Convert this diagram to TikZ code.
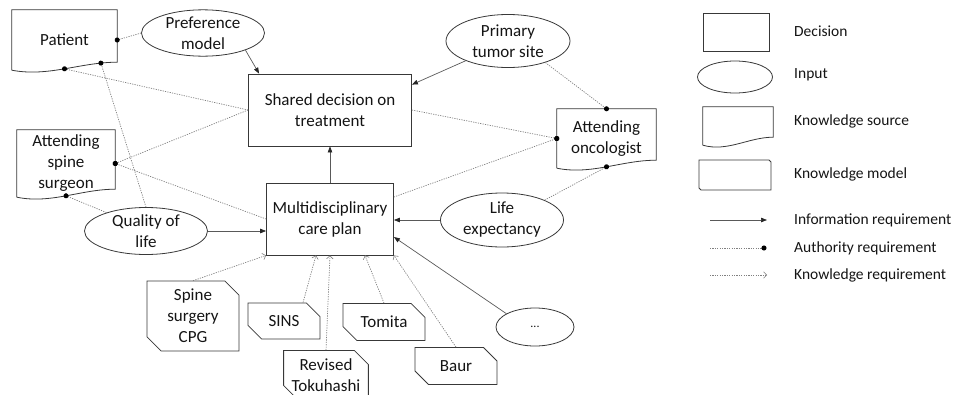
\documentclass[tikz,border=0pt]{standalone}
\usepackage{fontspec}
\setmainfont{Carlito}
\usetikzlibrary{shapes.geometric,shapes.misc,arrows.meta,calc}

% outline of a knowledge source (document with wavy bottom)
\newcommand{\ksrcoutline}[1]{%
\draw[shapeline] (#1.south west) -- (#1.north west) -- (#1.north east) -- ($(#1.south east)+(0,-8)$)
  .. controls ($(#1.south west)!0.65!(#1.south east)+(0,-8)$) and ($(#1.south west)!0.35!(#1.south east)+(0,7)$) .. (#1.south west)
  coordinate[pos=0.5] (#1-wm) coordinate[pos=0.15] (#1-wr);}

\begin{document}
\begin{tikzpicture}[x=1pt,y=-1pt,
  every node/.style={text=black!92, font=\fontsize{17}{21}\selectfont, align=center, inner sep=1pt},
  shapeline/.style={draw=black!78, line width=0.8pt},
  decision/.style={shapeline, rectangle},
  input/.style={shapeline, ellipse, inner sep=0pt},
  ksource/.style={rectangle},
  kmodel/.style={shapeline, chamfered rectangle, chamfered rectangle corners={north east,south west},
    chamfered rectangle xsep=7pt, chamfered rectangle ysep=7pt},
  legtext/.style={anchor=west, font=\fontsize{15.5}{19}\selectfont},
  info/.style={draw=black!65, line width=0.7pt, -{Triangle[length=6pt,width=4.5pt,color=black!85]}},
  auth/.style={draw=black!50, line width=0.7pt, dash pattern=on 1.2pt off 1.2pt,
    -{Circle[length=5pt,color=black]}, shorten >=-2.5pt},
  know/.style={draw=black!50, line width=0.7pt, dash pattern=on 1.2pt off 1.2pt,
    -{Straight Barb[length=3pt,width=6.5pt,line width=0.6pt]}}]
\useasboundingbox (0,0) rectangle (956,394);

% decisions
\node[decision, minimum width=163pt, minimum height=72pt] (shared) at (330,110) {Shared decision on\\treatment};
\node[decision, minimum width=127pt, minimum height=72pt] (multi) at (330,219) {Multidisciplinary\\care plan};

% inputs
\node[input, minimum width=123pt, minimum height=41pt] (pref) at (203,33) {Preference\\model};
\node[input, minimum width=124pt, minimum height=53pt] (tumor) at (508,41) {Primary\\tumor site};
\node[input, minimum width=123pt, minimum height=47pt] (qol) at (146,231) {Quality of\\life};
\node[input, minimum width=123pt, minimum height=54pt] (life) at (502,220) {Life\\expectancy};
\node[input, minimum width=78pt, minimum height=38pt, font=\fontsize{12}{14}\selectfont] (etc) at (535,327) {...};

% knowledge sources
\node[ksource, minimum width=105pt, minimum height=60pt] (pat) at (64.5,40) {Patient};
\ksrcoutline{pat}
\node[ksource, minimum width=98pt, minimum height=67pt] (surg) at (66,163.5) {Attending\\spine\\surgeon};
\ksrcoutline{surg}
\node[ksource, minimum width=99pt, minimum height=59pt] (onc) at (606.5,138.5) {Attending\\oncologist};
\ksrcoutline{onc}

% knowledge models
\node[kmodel, minimum width=92pt, minimum height=60pt] (cpg) at (193,316) {Spine\\surgery\\CPG};
\node[kmodel, minimum width=72pt, minimum height=36pt] (sins) at (284,321) {SINS};
\node[kmodel, minimum width=81pt, minimum height=37pt] (tok) at (326,375) {Revised\\Tokuhashi};
\node[kmodel, minimum width=82pt, minimum height=37pt] (tomita) at (384,322) {Tomita};
\node[kmodel, minimum width=82pt, minimum height=37pt] (baur) at (456,366) {Baur};

% information requirements
\draw[info] (pref.-22) -- ([xshift=11pt]shared.north west);
\draw[info] (tumor.205) -- ([yshift=-11pt]shared.north east);
\draw[info] (multi.north) -- (shared.south);
\draw[info] (qol.east) -- (qol.east -| multi.west);
\draw[info] (life.west) -- (life.west -| multi.east);
\draw[info] (etc.155) -- ([yshift=-18pt]multi.east);

% authority requirements
\draw[auth] (pref.west) -- (pat.east);
\draw[auth] (shared.west) -- (pat-wm);
\draw[auth] (qol.north) -- (pat-wr);
\draw[auth] (shared.west) -- (surg.east);
\draw[auth] (multi.west) -- (surg.east);
\draw[auth] (qol.155) -- (surg-wm);
\draw[auth] (tumor.-30) -- (onc.north);
\draw[auth] (shared.east) -- (onc.west);
\draw[auth] ([yshift=22pt]multi.east) -- (onc.west);
\draw[auth] (life.25) -- (onc-wm);

% knowledge requirements
\draw[know] (cpg.north) -- (multi.south west);
\draw[know] ([xshift=19pt]sins.north) -- ([xshift=-14pt]multi.south);
\draw[know] (tok.north) -- (multi.south);
\draw[know] (tomita.north) -- ([xshift=35pt]multi.south);
\draw[know] (baur.north) -- (multi.south east);

% legend
\node[decision, minimum width=66pt, minimum height=38pt] (lg-dec) at (736,32) {};
\node[input, minimum width=75pt, minimum height=32pt] (lg-inp) at (735,77) {};
\node[ksource, minimum width=70pt, minimum height=38pt] (lg-ks) at (738,126) {};
\ksrcoutline{lg-ks}
\node[kmodel, minimum width=72pt, minimum height=30pt] (lg-km) at (735,175) {};
\coordinate (lg-i1) at (710,220);
\coordinate (lg-i2) at (767,220);
\coordinate (lg-a1) at (710,248);
\coordinate (lg-a2) at (764,248);
\coordinate (lg-k1) at (710,275);
\coordinate (lg-k2) at (767,275);
\draw[info] (lg-i1) -- (lg-i2);
\draw[auth] (lg-a1) -- (lg-a2);
\draw[know] (lg-k1) -- (lg-k2);
\node[legtext] (lt-dec) at (793,31) {Decision};
\node[legtext] (lt-inp) at (793,75) {Input};
\node[legtext] (lt-ks) at (793,121) {Knowledge source};
\node[legtext] (lt-km) at (793,174) {Knowledge model};
\node[legtext] (lt-i) at (793,220) {Information requirement};
\node[legtext] (lt-a) at (793,248) {Authority requirement};
\node[legtext] (lt-k) at (793,275) {Knowledge requirement};
\end{tikzpicture}
\end{document}
